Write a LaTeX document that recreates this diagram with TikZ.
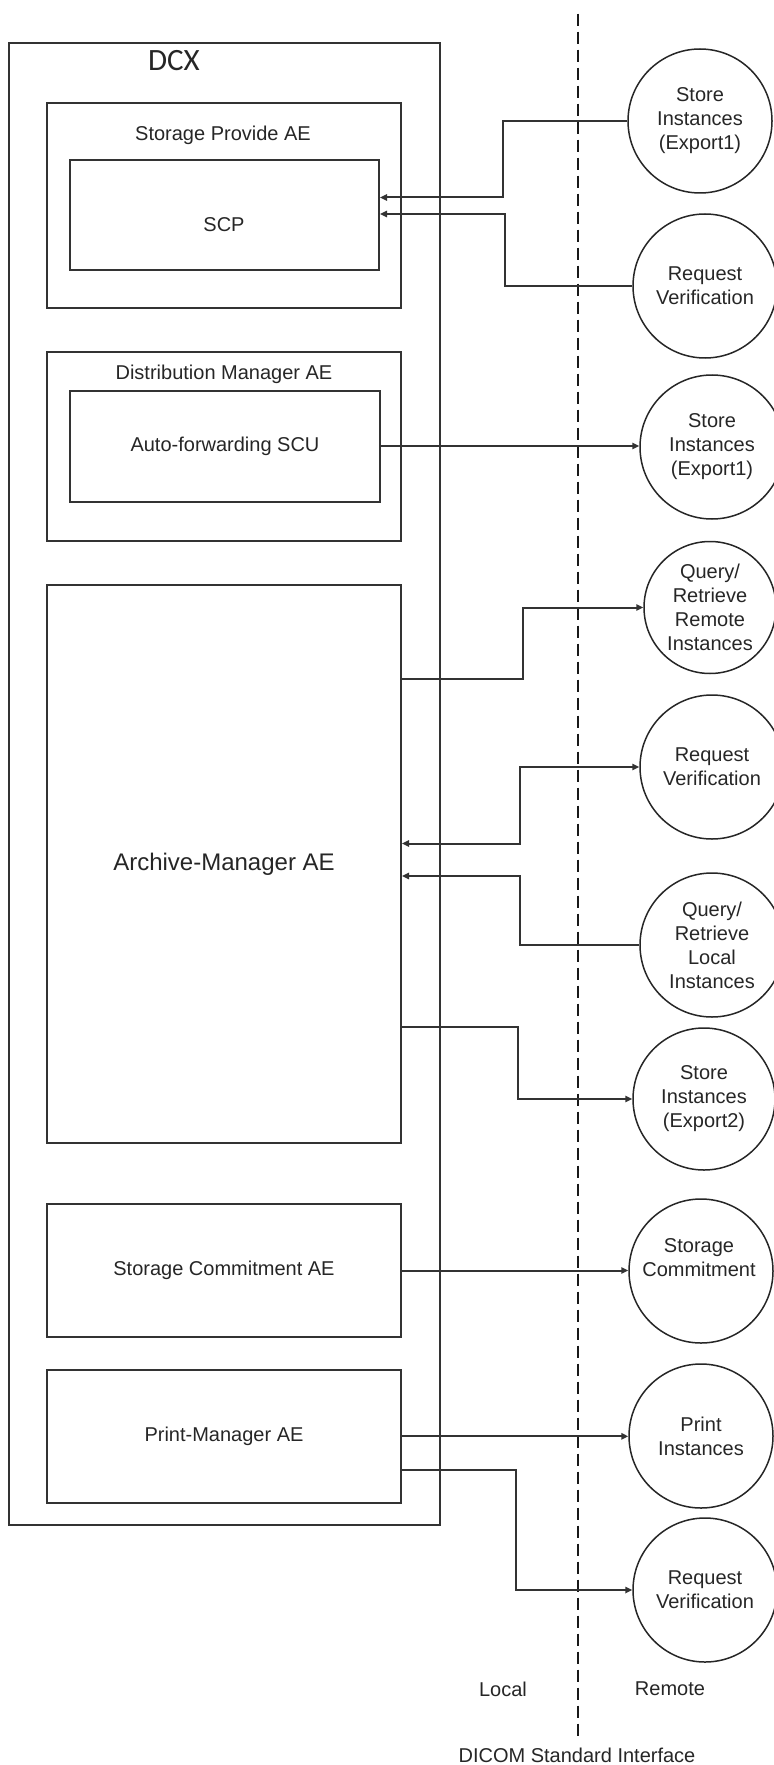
\documentclass[tikz,border=0pt]{standalone}
\usepackage{fontspec}
\setmainfont{Liberation Sans}
\newfontfamily\dcxfont{Carlito}
\usetikzlibrary{arrows.meta}
\begin{document}
\begin{tikzpicture}[x=0.5pt,y=-0.5pt,
  every node/.style={text=black!85, font=\fontsize{10}{12}\selectfont},
  box/.style={draw=black!80, line width=1pt, rectangle, inner sep=0pt},
  ring/.style={draw=black!85, line width=0.75pt, circle, inner sep=0pt, minimum size=72pt, align=center},
  conn/.style={draw=black!80, line width=1pt},
  arr/.style={conn, -{Triangle[length=3.5pt,width=3.2pt]}},
  biarr/.style={conn, {Triangle[length=3.5pt,width=3.2pt]}-{Triangle[length=3.5pt,width=3.2pt]}},
  lbl/.style={inner sep=0pt, align=center}]
\useasboundingbox (0,0) rectangle (773,1765);

% boxes
\node[box, minimum width=215.5pt, minimum height=741pt] (dcx) at (224.5,784) {};
\node[lbl, font=\dcxfont\fontsize{15.5}{18}\selectfont] (dcxl) at (174,61) {DCX};

\node[box, minimum width=177pt, minimum height=102.25pt] (spae) at (224,205.75) {};
\node[lbl] (spael) at (223,135) {Storage Provide AE};
\node[box, minimum width=154.5pt, minimum height=55pt] (scp) at (224.5,215) {};
\node[lbl] (scpl) at (224,225) {SCP};

\node[box, minimum width=177pt, minimum height=94.25pt] (dmae) at (224,446.75) {};
\node[lbl] (dmael) at (224,374) {Distribution Manager AE};
\node[box, minimum width=155pt, minimum height=55.5pt] (afscu) at (225,446) {Auto-forwarding SCU};

\node[box, minimum width=177pt, minimum height=279pt, font=\fontsize{12}{14}\selectfont] (arch) at (224,864) {Archive-Manager AE};

\node[box, minimum width=177pt, minimum height=66.5pt] (scae) at (224,1270.5) {Storage Commitment AE};
\node[box, minimum width=177pt, minimum height=66.3pt] (pmae) at (224,1436.3) {Print-Manager AE};

% remote circles
\node[ring] (c1) at (700,121) {Store\\Instances\\(Export1)};
\node[ring] (c2) at (705,286) {Request\\Verification};
\node[ring] (c3) at (712,447) {Store\\Instances\\(Export1)};
\node[ring, minimum size=66pt] (c4) at (710,607.5) {Query/\\Retrieve\\Remote\\Instances};
\node[ring] (c5) at (712,767) {Request\\Verification};
\node[ring] (c6) at (712,945) {Query/\\Retrieve\\Local\\Instances};
\node[ring, minimum size=71pt] (c7) at (704,1099) {Store\\Instances\\(Export2)};
\node[ring] (c8) at (701,1271) {};
\node[lbl] (c8l) at (699,1257.5) {Storage\\Commitment};
\node[ring] (c9) at (701,1436) {Print\\Instances};
\node[ring] (c10) at (705,1590) {Request\\Verification};

% interface line
\coordinate (dtop) at (578,13.6);
\coordinate (dbot) at (578,1737.5);
\draw[black!90, line width=1.1pt, dash pattern=on 6pt off 3pt] (dtop) -- (dbot);
\node[lbl] (local) at (503,1689) {Local};
\node[lbl] (remote) at (670,1689) {Remote};
\node[lbl] (dicom) at (577,1755) {DICOM Standard Interface};

% connectors
\draw[arr] (c1.west) -| (503,197.5) -- (scp.east |- 0,197.5);
\draw[arr] (c2.west) -| (505,214) -- (scp.east |- 0,214);
\draw[arr] (afscu.east) -- (c3.west |- afscu.east);
\draw[arr] (arch.east |- 0,678.5) -| (523,607.5) -- (c4.west);
\draw[biarr] (c5.west) -| (520,843.5) -- (arch.east |- 0,843.5);
\draw[arr] (c6.west) -| (520,876) -- (arch.east |- 0,876);
\draw[arr] (arch.east |- 0,1027) -| (518,1099) -- (c7.west);
\draw[arr] (scae.east) -- (c8.west |- scae.east);
\draw[arr] (pmae.east) -- (c9.west |- pmae.east);
\draw[arr] (pmae.east |- 0,1470) -| (516,1590) -- (c10.west);
\end{tikzpicture}
\end{document}
